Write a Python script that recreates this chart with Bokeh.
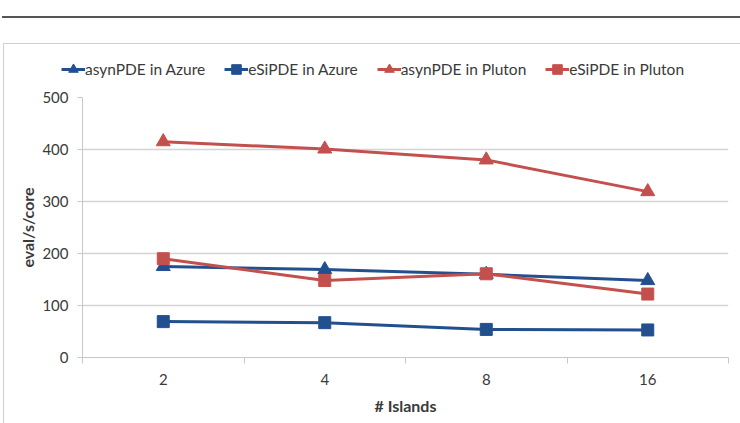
from bokeh.plotting import figure
from bokeh.layouts import column, row
from bokeh.models import (FixedTicker, Range1d, Legend, LegendItem, Spacer,
                          ColumnDataSource)
from bokeh.embed import file_html
from bokeh.resources import INLINE

# Data
islands = ["2", "4", "8", "16"]
asyn_azure = [175, 169, 160, 148]
esi_azure = [69, 67, 54, 53]
asyn_pluton = [415, 401, 380, 319]
esi_pluton = [190, 148, 161, 122]
y_ticks = [0, 100, 200, 300, 400, 500]

BLUE = "#22508f"
RED = "#c4504e"
FONT = "Lato"
TEXT = "#3a3a3a"

series = [
    ("asynPDE in Azure", asyn_azure, BLUE, "triangle"),
    ("eSiPDE in Azure", esi_azure, BLUE, "square"),
    ("asynPDE in Pluton", asyn_pluton, RED, "triangle"),
    ("eSiPDE in Pluton", esi_pluton, RED, "square"),
]

xpos = [i + 0.5 for i in range(len(islands))]


def marker_size(mk):
    return 14 if mk == "triangle" else 12


def add_series(fig, name, vals, col, mk):
    src = ColumnDataSource(dict(x=xpos, y=vals))
    ln = fig.line("x", "y", source=src, line_color=col, line_width=3)
    sc = fig.scatter("x", "y", source=src, marker=mk, size=marker_size(mk),
                     fill_color=col, line_color=col)
    return ln, sc


# ---- main chart ----
p = figure(width=736, height=334, output_backend="svg", toolbar_location=None,
           x_range=Range1d(0, len(islands)), y_range=Range1d(0, 500),
           min_border_left=78, min_border_right=12,
           min_border_top=8, min_border_bottom=66)
p.outline_line_color = None
p.background_fill_color = "white"
p.border_fill_color = "white"

# x axis: category labels centred, tick marks on category boundaries
p.xaxis.ticker = FixedTicker(ticks=xpos, minor_ticks=list(range(len(islands) + 1)))
p.xaxis.major_label_overrides = {x: lab for x, lab in zip(xpos, islands)}
p.xaxis.major_tick_out = 0
p.xaxis.major_tick_in = 0
p.xaxis.minor_tick_out = 6
p.xaxis.minor_tick_in = 0
p.xaxis.minor_tick_line_color = "#c8c8c8"
p.xaxis.axis_line_color = "#c8c8c8"
p.xaxis.major_label_standoff = 10
p.xaxis.axis_label = "# Islands"
p.xaxis.axis_label_standoff = 8

p.yaxis.ticker = FixedTicker(ticks=y_ticks)
p.yaxis.major_tick_out = 5
p.yaxis.major_tick_in = 0
p.yaxis.minor_tick_line_color = None
p.yaxis.major_tick_line_color = "#c8c8c8"
p.yaxis.axis_line_color = "#c8c8c8"
p.yaxis.major_label_standoff = 9
p.yaxis.axis_label = "eval/s/core"
p.yaxis.axis_label_standoff = 2

for ax in (p.xaxis, p.yaxis):
    ax.major_label_text_font = FONT
    ax.major_label_text_font_size = "15px"
    ax.major_label_text_color = TEXT
    ax.axis_label_text_font = FONT
    ax.axis_label_text_font_size = "16px"
    ax.axis_label_text_font_style = "bold"
    ax.axis_label_text_color = TEXT

p.xgrid.grid_line_color = None
p.ygrid.grid_line_color = "#d4d4d4"
p.ygrid.grid_line_width = 1.5

for name, vals, col, mk in series:
    add_series(p, name, vals, col, mk)

# ---- legend strip across the top of the chart box ----
# same series, drawn out of view; only its legend shows
lg = figure(width=736, height=45, output_backend="svg", toolbar_location=None,
            x_axis_location=None, y_axis_location=None,
            min_border=0, x_range=Range1d(0, len(islands)), y_range=Range1d(-2, -1))
lg.outline_line_color = None
lg.grid.grid_line_color = None
items = []
for name, vals, col, mk in series:
    ln, sc = add_series(lg, name, vals, col, mk)
    items.append(LegendItem(label=name, renderers=[ln, sc]))

legend = Legend(items=items, orientation="horizontal", location=(57, 7),
                label_text_font=FONT, label_text_font_size="15.5px",
                label_text_color=TEXT, glyph_width=24, glyph_height=26,
                label_standoff=0, spacing=19, padding=0, margin=0,
                border_line_color=None, background_fill_alpha=0)
lg.add_layout(legend, "center")

# page heading rule, then the outlined chart box
rule = Spacer(width=738, height=2, margin=(16, 0, 26, 2),
              styles={"background-color": "#555555"})
box = column(row(lg), row(p), spacing=0, styles={"outline": "1.5px solid #d0d0d0"})
layout = column(rule, row(Spacer(width=4, height=379), box, spacing=0), spacing=0)

open("out.html", "w").write(file_html(layout, INLINE))
